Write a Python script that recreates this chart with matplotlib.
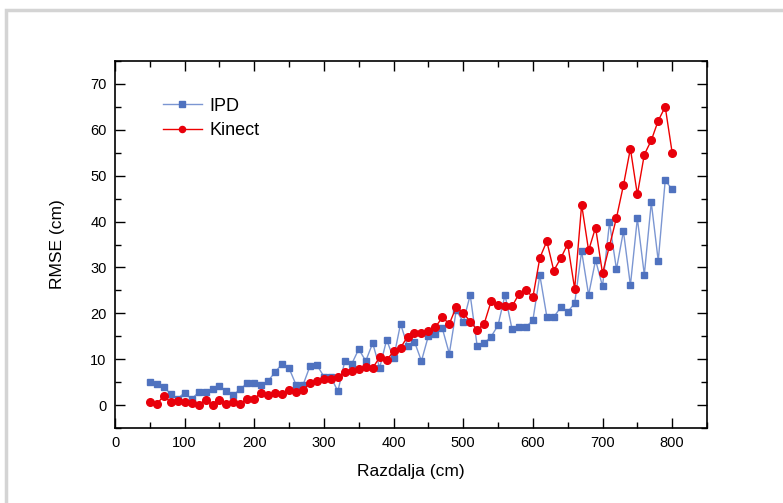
import matplotlib.pyplot as plt
import matplotlib.patches as patches
import numpy as np

# distance (cm)
razdalja = np.arange(50, 801, 10)

ipd = [5.0, 4.6, 4.0, 2.4, 1.4, 2.7, 1.3, 2.8, 2.8, 3.5,
       4.1, 3.1, 2.2, 3.5, 4.8, 4.8, 4.3, 5.3, 7.2, 9.0,
       8.0, 4.4, 4.4, 8.5, 8.7, 6.2, 6.1, 3.0, 9.6, 9.0,
       12.2, 9.6, 13.5, 8.1, 14.2, 10.2, 17.7, 12.9, 13.8, 9.6,
       15.1, 15.5, 16.7, 11.2, 20.7, 18.1, 24.0, 12.9, 13.5, 14.9,
       17.4, 24.0, 16.6, 17.1, 17.0, 18.5, 28.3, 19.3, 19.2, 21.3,
       20.3, 22.2, 33.5, 24.0, 31.6, 25.9, 39.8, 29.6, 37.9, 26.1,
       40.7, 28.4, 44.2, 31.4, 49.0, 47.0]

kinect = [0.7, 0.2, 2.0, 0.6, 0.8, 0.6, 0.4, 0.1, 1.1, 0.1,
          1.2, 0.3, 0.6, 0.3, 1.4, 1.4, 2.7, 2.3, 2.7, 2.5,
          3.2, 2.9, 3.3, 4.8, 5.3, 5.6, 5.7, 6.2, 7.1, 7.5,
          7.9, 8.3, 8.1, 10.4, 9.8, 11.7, 12.5, 14.9, 15.6, 15.7,
          16.2, 17.0, 19.1, 17.7, 21.4, 20.1, 18.2, 16.4, 17.7, 22.6,
          21.9, 21.5, 21.5, 24.2, 25.1, 23.5, 32.1, 35.7, 29.3, 32.0,
          35.1, 25.3, 43.7, 33.7, 38.7, 28.7, 34.7, 40.8, 47.9, 55.9,
          45.9, 54.6, 57.7, 62.0, 65.0, 55.0]

plt.rcParams['font.family'] = ['Liberation Sans', 'DejaVu Sans']

fig = plt.figure(figsize=(7.83, 5.03), dpi=100)
W, H = 783, 503
ax = fig.add_axes([115 / W, 1 - 428 / H, (707 - 115) / W, (428 - 61) / H])

# light grey frame around the figure
fig.patches.append(patches.Rectangle((5.5 / W, -0.05), 1.2, 1 - 9.5 / H + 0.05,
                                     transform=fig.transFigure, fill=False,
                                     edgecolor='#d4d4d4', linewidth=2.5))

ax.plot(razdalja, ipd, color='#7b96d2', linewidth=1.0, marker='s',
        markersize=5, markerfacecolor='#4f72bf', markeredgecolor='#4f72bf',
        label='IPD')
ax.plot(razdalja, kinect, color='#ee0000', linewidth=1.0, marker='o',
        markersize=5.5, markerfacecolor='#e8000b', markeredgecolor='#e8000b',
        label='Kinect')

ax.set_xlim(0, 850)
ax.set_ylim(-5, 75)
ax.set_xticks(np.arange(0, 801, 100))
ax.set_xticks(np.arange(50, 851, 100), minor=True)
ax.set_yticks(np.arange(0, 71, 10))
ax.set_yticks(np.arange(-5, 76, 10), minor=True)

ax.tick_params(which='both', direction='in', top=True, right=True,
               labelsize=10.5, width=1.0, pad=6)
ax.tick_params(which='major', length=7)
ax.tick_params(which='minor', length=4)
for s in ax.spines.values():
    s.set_linewidth(1.2)

ax.set_xlabel('Razdalja (cm)', fontsize=12.5, labelpad=10)
ax.set_ylabel('RMSE (cm)', fontsize=12.5, labelpad=18)

ax.legend(loc='upper left', bbox_to_anchor=(0.053, 0.944), frameon=False,
          fontsize=13, handlelength=2.2, handletextpad=0.4, labelspacing=0.4,
          markerscale=0.8)

fig.savefig('out.png', dpi=100)
